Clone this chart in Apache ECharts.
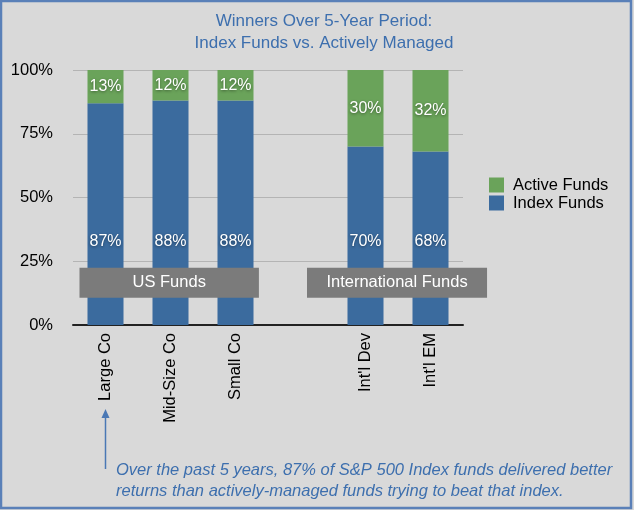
<!DOCTYPE html>
<html><head><meta charset="utf-8">
<script src="https://cdn.jsdelivr.net/npm/echarts@6/dist/echarts.min.js"></script>
<style>html,body{margin:0;padding:0;background:#d9d9d9;}#c{width:634px;height:510px;}</style>
</head><body><div id="c"></div>
<script>
const categories = ['Large Co', 'Mid-Size Co', 'Small Co', '', "Int'l Dev", "Int'l EM"];
const indexFunds = [87, 88, 88, null, 70, 68];
const activeFunds = [13, 12, 12, null, 30, 32];
const yTicks = [0, 25, 50, 75, 100];
const groupLabels = ['US Funds', 'International Funds'];
const titleLines = ['Winners Over 5-Year Period:', 'Index Funds vs. Actively Managed'];
const footnote = ['Over the past 5 years, 87% of S&P 500 Index funds delivered better', 'returns than actively-managed funds trying to beat that index.'];

const FONT = 'Liberation Sans, Arial, sans-serif';
const FS = 16.5;
const chart = echarts.init(document.getElementById('c'));
const shadowLabel = {color:'#fff', fontSize:16, fontFamily:FONT, textShadowColor:'rgba(0,0,0,0.45)', textShadowBlur:3, textShadowOffsetY:1, formatter: p => p.value == null ? '' : p.value + '%'};
chart.setOption({
  backgroundColor:'#d9d9d9',
  animation:false,
  title:{text:titleLines.join('\n'), left:319, top:5, textAlign:'center',
    textStyle:{color:'#3d6fae', fontSize:17, fontWeight:'normal', fontFamily:FONT, lineHeight:22}},
  legend:{data:['Active Funds','Index Funds'], orient:'vertical', left:484, top:171, itemWidth:15, itemHeight:15, itemGap:0,
    icon:'rect', textStyle:{fontSize:FS, fontFamily:FONT, color:'#000', padding:[0,0,0,4], lineHeight:18}},
  grid:{left:73, right:171, top:70, bottom:185, containLabel:false},
  xAxis:{type:'category', data:categories, axisTick:{show:false},
    axisLine:{lineStyle:{color:'#222', width:2}},
    axisLabel:{rotate:90, fontSize:FS, fontFamily:FONT, color:'#000', margin:8, interval:0}},
  yAxis:{type:'value', min:0, max:100, interval:25,
    axisLabel:{formatter: v => yTicks.includes(v) ? v + '%' : '', fontSize:FS, fontFamily:FONT, color:'#000', margin:20},
    splitLine:{lineStyle:{color:'#b4b4b4', width:1}}, axisLine:{show:false}, axisTick:{show:false}},
  series:[
    {name:'Index Funds', type:'bar', stack:'a', data:indexFunds, barWidth:36, itemStyle:{color:'#3b6b9e'},
      label:Object.assign({show:true, position:'insideBottom', distance:75}, shadowLabel)},
    {name:'Active Funds', type:'bar', stack:'a', data:activeFunds, barWidth:36, itemStyle:{color:'#6aa35a'},
      label:Object.assign({show:true, position:'inside'}, shadowLabel)}
  ]
});

function px(i){ return chart.convertToPixel({xAxisIndex:0}, i); }
const step = px(1) - px(0);
const yTop = chart.convertToPixel({yAxisIndex:0}, 22.5);
const boxH = 30;
function box(i0, i1, extL, extR, text){
  const x0 = px(i0) - extL*step, x1 = px(i1) + extR*step;
  return {type:'group', children:[
    {type:'rect', shape:{x:x0, y:yTop, width:x1-x0, height:boxH}, style:{fill:'#7b7b7b'}, z:10},
    {type:'text', x:(x0+x1)/2, y:yTop+boxH/2, style:{text:text, fill:'#fff', fontSize:FS, fontFamily:FONT, align:'center', verticalAlign:'middle'}, z:11}
  ]};
}
const ax = px(0);
chart.setOption({graphic:[
  {type:'rect', shape:{x:1, y:1, width:630, height:507}, style:{fill:null, stroke:'#5a80b8', lineWidth:2.5}, z:20},
  box(0, 2, 0.4, 0.36, groupLabels[0]),
  box(4, 5, 0.9, 0.87, groupLabels[1]),
  {type:'line', shape:{x1:ax, y1:469, x2:ax, y2:414}, style:{stroke:'#4a78b5', lineWidth:1.5}, z:10},
  {type:'polygon', shape:{points:[[ax-4,418],[ax+4,418],[ax,409]]}, style:{fill:'#4a78b5'}, z:10},
  {type:'text', x:116, y:460, style:{text:footnote.join('\n'), fill:'#3d6fae', fontSize:FS, fontStyle:'italic', fontFamily:FONT, lineHeight:21}, z:10}
]});
</script></body></html>
